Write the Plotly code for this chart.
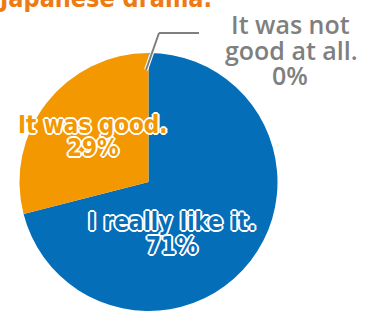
import plotly.graph_objects as go

W, H = 378, 311

labels = ["I really like it.", "It was good.", "It was not good at all."]
values = [71, 29, 0]
colors = ["#046eb8", "#f39800", "#7f7f7f"]
title_text = "Japanese drama."

total = sum(values)
pcts = [round(v * 100 / total) for v in values]


def px(x):
    return x / W


def py(y):
    return 1 - y / H


fig = go.Figure(
    go.Pie(
        labels=labels,
        values=values,
        sort=False,
        direction="clockwise",
        rotation=0,
        marker=dict(colors=colors, line=dict(width=0)),
        textinfo="none",
        hoverinfo="label+percent",
        showlegend=False,
        domain=dict(x=[px(19.5), px(277.5)], y=[0, 258 / H]),
    )
)

outline = ", ".join(
    f"{dx}px {dy}px 0 #ffffff"
    for dx, dy in [(1, 0), (-1, 0), (0, 1), (0, -1), (1, 1), (-1, -1), (1, -1), (-1, 1),
                   (2, 0), (-2, 0), (0, 2), (0, -2)]
)

COND = "DejaVu Sans Condensed, DejaVu Sans"
ann = []


def add(text, x, y, color, size, shadow=None, xanchor="center", yanchor="middle",
        weight="bold", family=COND):
    f = dict(family=family, size=size, color=color, weight=weight)
    if shadow:
        f["shadow"] = shadow
    ann.append(dict(text=text, x=px(x), y=py(y), xref="paper", yref="paper",
                    xanchor=xanchor, yanchor=yanchor, showarrow=False, font=f))


# title (cut off at top)
add(title_text, -4, 15, "#ee7a14", 25, xanchor="left", yanchor="bottom")

# inside labels
add(labels[1], 93, 125, colors[1], 24, outline)
add(f"{pcts[1]}%", 93, 148, colors[1], 24, outline)
add(labels[0], 172, 222, colors[0], 24, outline)
add(f"{pcts[0]}%", 172, 246, colors[0], 24, outline)

# outside label for the zero slice
gray = "#7f7f7f"
w3 = labels[2].split(" ")
GF = "Open Sans"
add(" ".join(w3[:3]), 290, 24, gray, 25, weight=600, family=GF)
add(" ".join(w3[3:]), 291, 50, gray, 25, weight=600, family=GF)
add(f"{pcts[2]}%", 290, 75, gray, 25, weight=600, family=GF)

shapes = []
for col, wd in [("#ffffff", 4), (gray, 2)]:
    shapes.append(dict(type="line", xref="paper", yref="paper",
                       x0=px(146), y0=py(70), x1=px(159), y1=py(33),
                       line=dict(color=col, width=wd)))
    shapes.append(dict(type="line", xref="paper", yref="paper",
                       x0=px(159), y0=py(33), x1=px(199), y1=py(33),
                       line=dict(color=col, width=wd)))

fig.update_layout(
    width=W, height=H,
    margin=dict(l=0, r=0, t=0, b=0),
    paper_bgcolor="#ffffff",
    plot_bgcolor="#ffffff",
    annotations=ann,
    shapes=shapes,
)

fig.write_html(
    "out.html",
    config={"displayModeBar": False},
    post_script="document.body.style.margin='0';document.body.style.overflow='hidden';",
)
